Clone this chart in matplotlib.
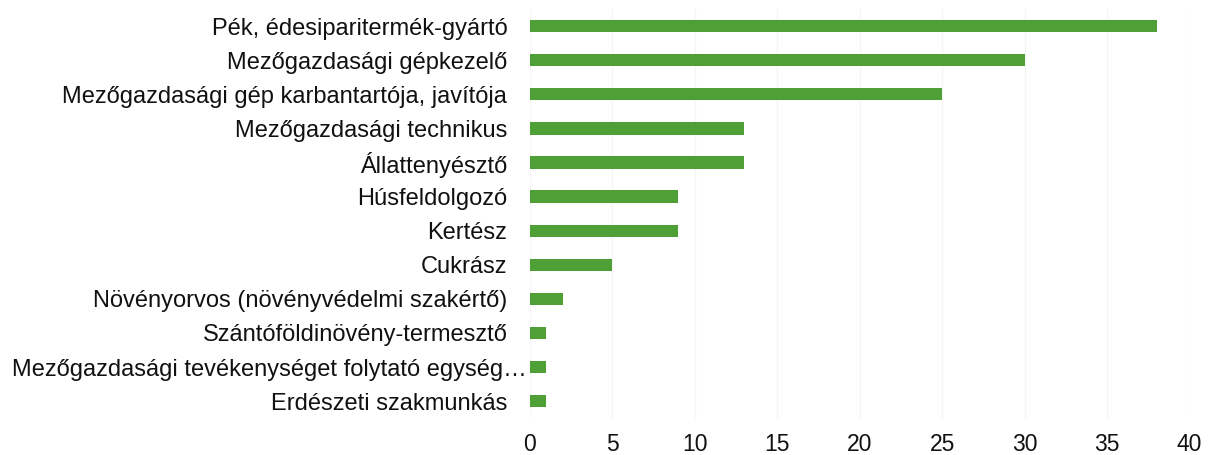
import matplotlib.pyplot as plt
import matplotlib.transforms as mtransforms

plt.rcParams['font.family'] = ['Liberation Sans', 'DejaVu Sans']

occupations = [
    'Pék, édesiparitermék-gyártó',
    'Mezőgazdasági gépkezelő',
    'Mezőgazdasági gép karbantartója, javítója',
    'Mezőgazdasági technikus',
    'Állattenyésztő',
    'Húsfeldolgozó',
    'Kertész',
    'Cukrász',
    'Növényorvos (növényvédelmi szakértő)',
    'Szántóföldinövény-termesztő',
    'Mezőgazdasági tevékenységet folytató egység…',
    'Erdészeti szakmunkás',
]
counts = [38, 30, 25, 13, 13, 9, 9, 5, 2, 1, 1, 1]
x_ticks = [0, 5, 10, 15, 20, 25, 30, 35, 40]

fig = plt.figure(figsize=(12.09, 4.55), dpi=100)
ax = fig.add_axes([0.438, 0.081, 0.546, 0.899])

ypos = list(range(len(occupations)))
ax.barh(ypos, counts, height=0.36, color='#4f9f37', zorder=2)

ax.set_ylim(len(occupations) - 0.5, -0.5)
ax.set_xlim(0, 40)
ax.set_xticks(x_ticks)
ax.set_yticks(ypos)
ax.set_yticklabels(occupations, fontsize=17, color='#111111')
ax.tick_params(axis='x', labelsize=16.5, pad=11, length=0, colors='#111111')
ax.tick_params(axis='y', length=0, pad=16)

ax.grid(axis='x', color='#f5f5f5', linewidth=1, zorder=0)
for s in ax.spines.values():
    s.set_visible(False)

# the truncated label sits closer to the bars
lab = ax.get_yticklabels()[10]
lab.set_transform(lab.get_transform() + mtransforms.ScaledTranslation(0.19, 0, fig.dpi_scale_trans))

fig.savefig('out.png', dpi=100)
